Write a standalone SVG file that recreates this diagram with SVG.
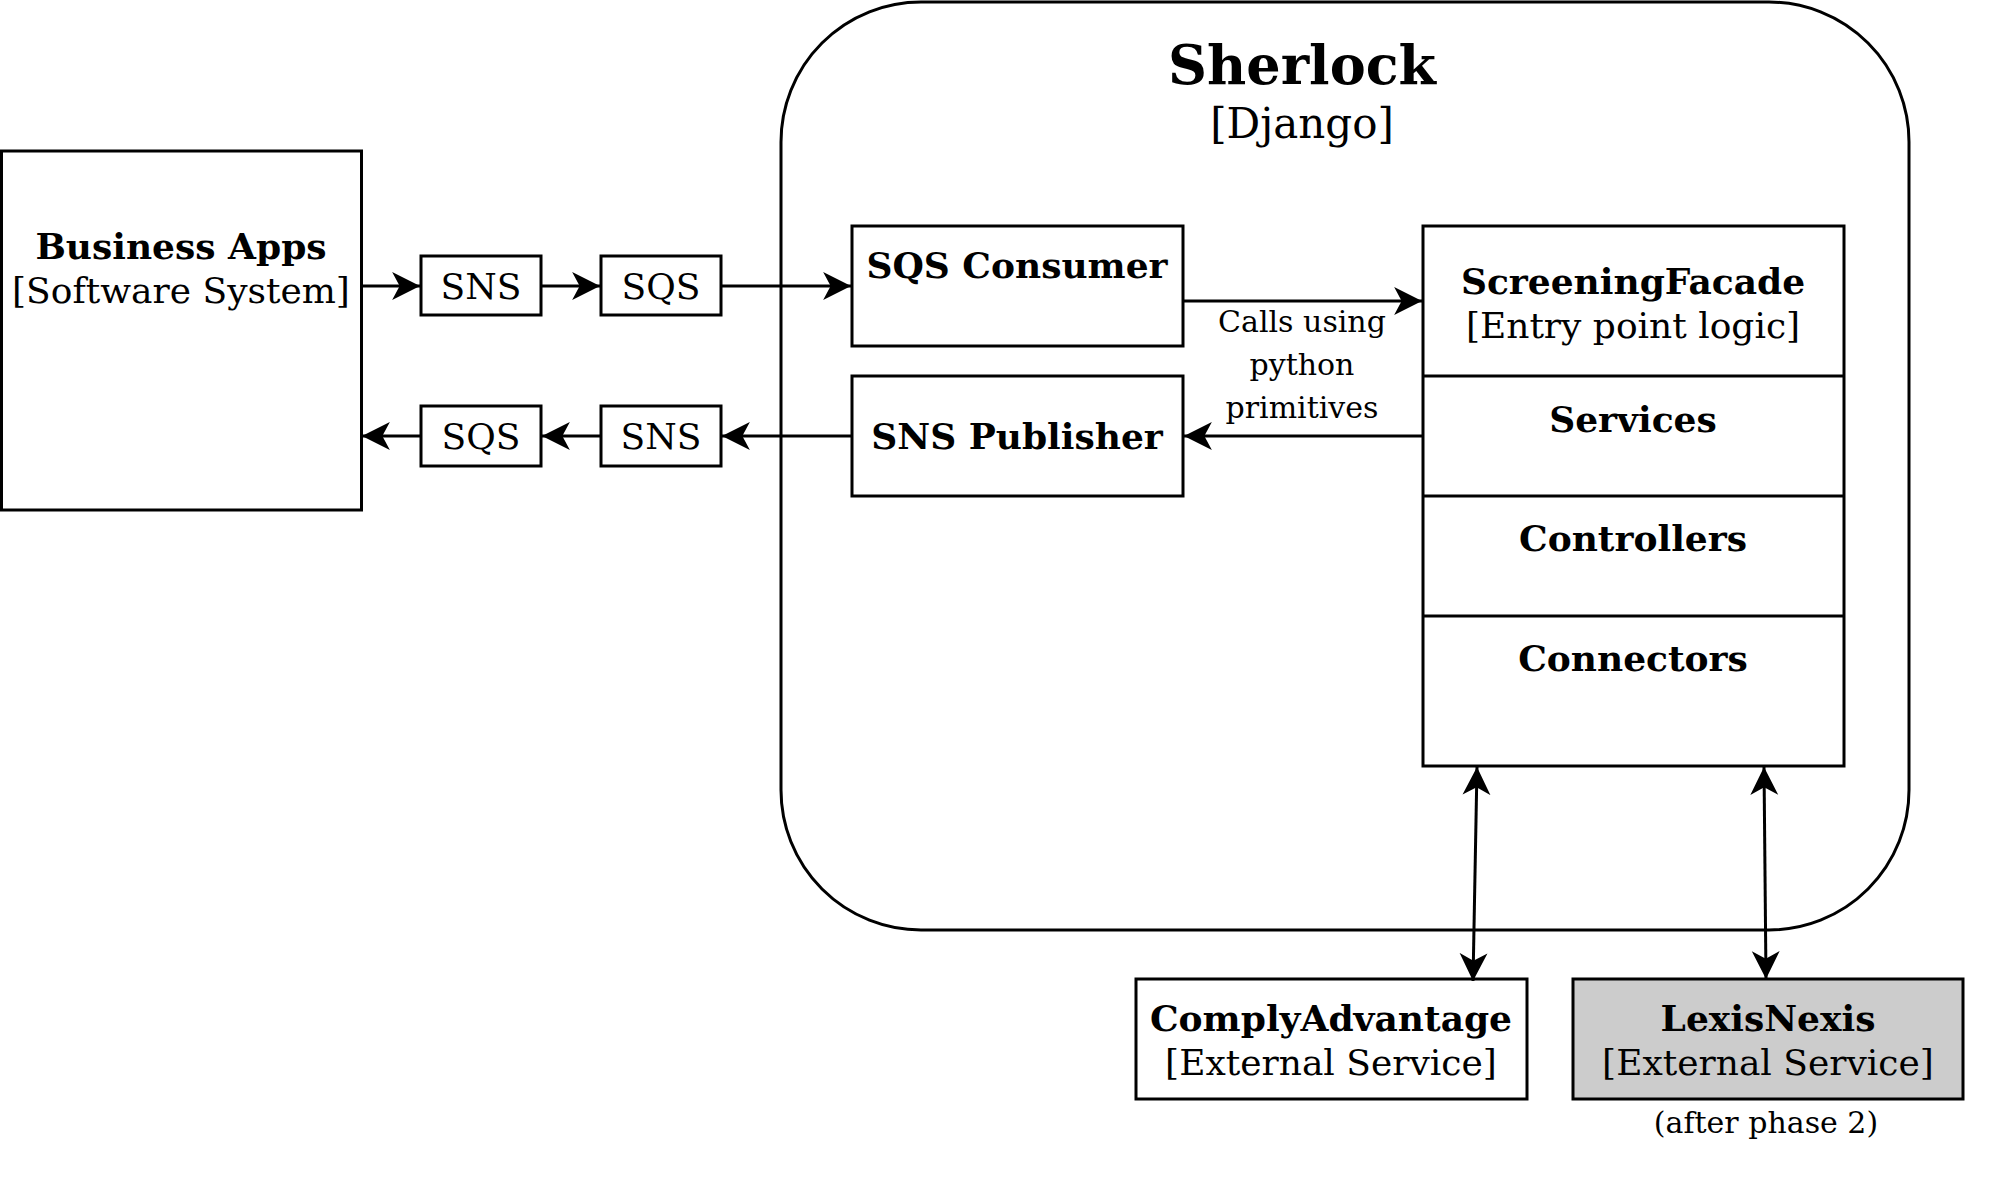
<svg xmlns="http://www.w3.org/2000/svg" width="2001" height="1177" viewBox="0 0 2001 1177">
<defs>
<marker id="arr" markerUnits="userSpaceOnUse" markerWidth="30" markerHeight="30" viewBox="-26 -14 28 28" refX="0" refY="0" orient="auto-start-reverse">
<path d="M0,0 L-26,-13 L-19,0 L-26,13 Z" fill="#000"/>
</marker>
<style>
text{font-family:"DejaVu Serif","Liberation Serif",serif;fill:#000;text-anchor:middle}
.b{font-weight:bold}
.box{fill:#fff;stroke:#000;stroke-width:3}
.c{fill:none;stroke:#000;stroke-width:3}
.t{font-size:36px}
.s{font-size:30px}
</style>
</defs>
<rect width="2001" height="1177" fill="#fff"/>
<g id="sherlock">
<rect x="781" y="2" width="1128" height="928" rx="140" ry="140" fill="#fff" stroke="#000" stroke-width="3"/>
<text x="1302" y="84" class="b" font-size="54">Sherlock</text>
<text x="1302" y="138" font-size="42">[Django]</text>
</g>
<g id="business-apps">
<rect class="box" x="1.5" y="151" width="360" height="359"/>
<text x="181" y="259" class="t b">Business Apps</text>
<text x="181" y="303" class="t">[Software System]</text>
</g>
<g id="sns-top"><rect class="box" x="421" y="256" width="120" height="59"/><text x="481" y="299" class="t">SNS</text></g>
<g id="sqs-top"><rect class="box" x="601" y="256" width="120" height="59"/><text x="661" y="299" class="t">SQS</text></g>
<g id="sqs-bottom"><rect class="box" x="421" y="406" width="120" height="60"/><text x="481" y="449" class="t">SQS</text></g>
<g id="sns-bottom"><rect class="box" x="601" y="406" width="120" height="60"/><text x="661" y="449" class="t">SNS</text></g>
<g id="sqs-consumer"><rect class="box" x="852" y="226" width="331" height="120"/><text x="1017" y="278" class="t b">SQS Consumer</text></g>
<g id="sns-publisher"><rect class="box" x="852" y="376" width="331" height="120"/><text x="1017" y="449" class="t b">SNS Publisher</text></g>
<g id="screening-facade">
<rect class="box" x="1423" y="226" width="421" height="540"/>
<line x1="1423" y1="376" x2="1844" y2="376" stroke="#000" stroke-width="3"/>
<line x1="1423" y1="496" x2="1844" y2="496" stroke="#000" stroke-width="3"/>
<line x1="1423" y1="616" x2="1844" y2="616" stroke="#000" stroke-width="3"/>
<text x="1633" y="294" class="t b">ScreeningFacade</text>
<text x="1633" y="338" class="t">[Entry point logic]</text>
<text x="1633" y="432" class="t b">Services</text>
<text x="1633" y="551" class="t b">Controllers</text>
<text x="1633" y="671" class="t b">Connectors</text>
</g>
<g id="comply-advantage"><rect class="box" x="1136" y="979" width="391" height="120"/><text x="1331" y="1031" class="t b">ComplyAdvantage</text><text x="1331" y="1075" class="t">[External Service]</text></g>
<g id="lexis-nexis"><rect x="1573" y="979" width="390" height="120" fill="#ccc" stroke="#000" stroke-width="3"/><text x="1768" y="1031" class="t b">LexisNexis</text><text x="1768" y="1075" class="t">[External Service]</text>
<text x="1766" y="1133" class="s">(after phase 2)</text></g>
<g id="connectors">
<line class="c" x1="363" y1="286" x2="420" y2="286" marker-end="url(#arr)"/>
<line class="c" x1="541" y1="286" x2="600" y2="286" marker-end="url(#arr)"/>
<line class="c" x1="721" y1="286" x2="851" y2="286" marker-end="url(#arr)"/>
<line class="c" x1="1183" y1="301" x2="1422" y2="301" marker-end="url(#arr)"/>
<line class="c" x1="1423" y1="436" x2="1184" y2="436" marker-end="url(#arr)"/>
<line class="c" x1="852" y1="436" x2="722" y2="436" marker-end="url(#arr)"/>
<line class="c" x1="601" y1="436" x2="542" y2="436" marker-end="url(#arr)"/>
<line class="c" x1="421" y1="436" x2="362" y2="436" marker-end="url(#arr)"/>
<line class="c" x1="1477" y1="767" x2="1473" y2="981" marker-start="url(#arr)" marker-end="url(#arr)"/>
<line class="c" x1="1764" y1="767" x2="1766" y2="979" marker-start="url(#arr)" marker-end="url(#arr)"/>
<text x="1302" y="332" class="s">Calls using</text>
<text x="1302" y="375" class="s">python</text>
<text x="1302" y="418" class="s">primitives</text>
</g>
</svg>
